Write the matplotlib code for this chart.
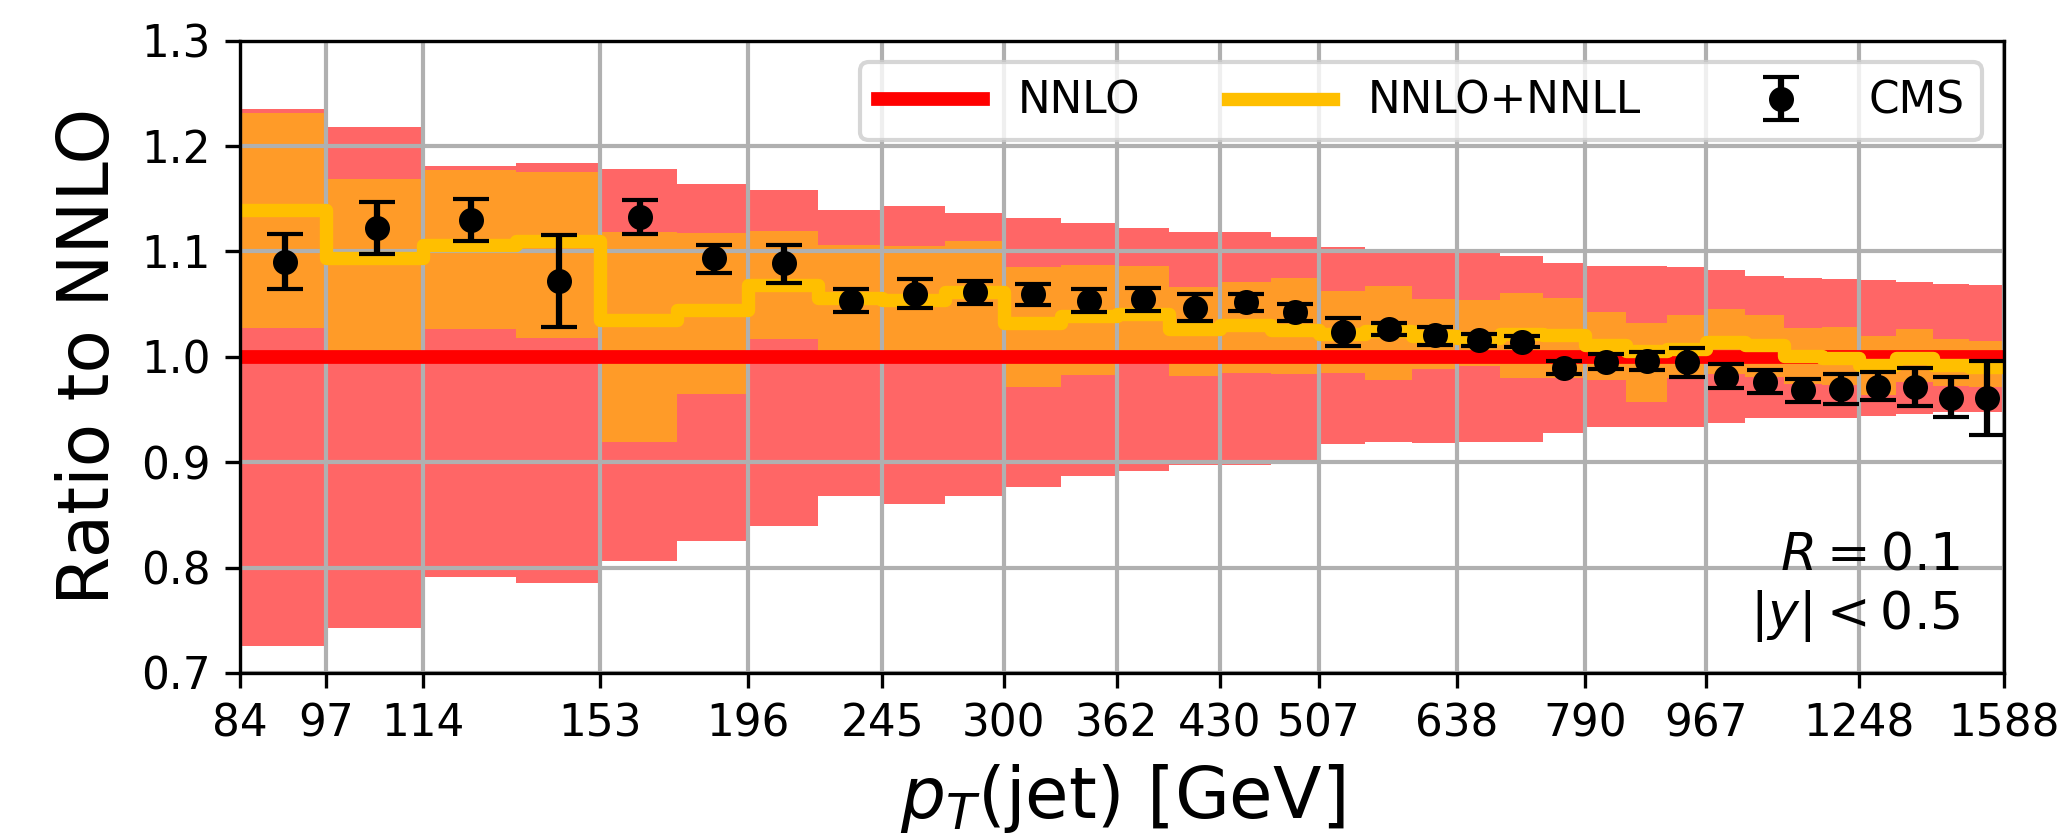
import numpy as np
import matplotlib
matplotlib.use("Agg")
import matplotlib.pyplot as plt
from matplotlib.ticker import NullLocator, FixedLocator, FixedFormatter

# ---- data ----
edges = [84, 97, 114, 133, 153, 174, 196, 220, 245, 272, 300, 330, 362, 395, 430,
         468, 507, 548, 592, 638, 686, 737, 790, 846, 905, 967, 1032, 1101, 1172,
         1248, 1327, 1410, 1497, 1588]

tick_values = [84, 97, 114, 153, 196, 245, 300, 362, 430, 507, 638, 790, 967, 1248, 1588]

nnlo_central = [1.0] * 33

nnlo_hi = [1.235, 1.218, 1.181, 1.184, 1.178, 1.164, 1.158, 1.139, 1.143, 1.136,
           1.132, 1.127, 1.122, 1.118, 1.118, 1.114, 1.104, 1.102, 1.100, 1.098,
           1.096, 1.089, 1.086, 1.086, 1.085, 1.082, 1.077, 1.075, 1.074, 1.073,
           1.071, 1.069, 1.068]
nnlo_lo = [0.726, 0.743, 0.791, 0.785, 0.806, 0.825, 0.839, 0.868, 0.860, 0.868,
           0.876, 0.887, 0.892, 0.897, 0.897, 0.900, 0.917, 0.919, 0.918, 0.919,
           0.919, 0.928, 0.933, 0.933, 0.933, 0.937, 0.942, 0.942, 0.942, 0.944,
           0.946, 0.948, 0.948]

nnll_central = [1.139, 1.094, 1.106, 1.110, 1.035, 1.044, 1.068, 1.056, 1.054, 1.061,
                1.032, 1.039, 1.041, 1.026, 1.030, 1.025, 1.022, 1.024, 1.020, 1.018,
                1.022, 1.021, 1.011, 1.005, 1.007, 1.0135, 1.011, 1.001, 0.999, 0.992,
                0.999, 0.992, 0.990]
nnll_hi = [1.231, 1.169, 1.177, 1.175, 1.118, 1.117, 1.119, 1.106, 1.105, 1.110,
           1.085, 1.087, 1.086, 1.066, 1.071, 1.075, 1.062, 1.067, 1.055, 1.054,
           1.060, 1.056, 1.042, 1.032, 1.040, 1.045, 1.040, 1.027, 1.028, 1.020,
           1.026, 1.017, 1.015]
nnll_lo = [1.027, 0.997, 1.026, 1.018, 0.919, 0.965, 1.017, 0.997, 0.995, 0.995,
           0.971, 0.983, 0.995, 0.982, 0.985, 0.984, 0.985, 0.978, 0.988, 0.991,
           0.980, 0.980, 0.978, 0.957, 0.980, 0.984, 0.981, 0.974, 0.973, 0.964,
           0.976, 0.972, 0.971]

cms_val = [1.0895, 1.1224, 1.1298, 1.0718, 1.133, 1.0934, 1.0889, 1.0531, 1.0596, 1.0612,
           1.0592, 1.0527, 1.0543, 1.0463, 1.0518, 1.0424, 1.0235, 1.026, 1.0203, 1.0161,
           1.0138, 0.9897, 0.9952, 0.9961, 0.9952, 0.981, 0.9762, 0.9682, 0.9698, 0.9714,
           0.9714, 0.9611, 0.9605]
cms_up = [1.116, 1.1465, 1.150, 1.1156, 1.149, 1.1063, 1.1056, 1.0644, 1.0734, 1.0718,
          1.0688, 1.064, 1.0656, 1.0598, 1.0598, 1.0502, 1.037, 1.0318, 1.0283, 1.0219,
          1.0196, 0.9961, 1.0026, 1.0042, 1.0081, 0.9929, 0.9871, 0.9788, 0.9836, 0.9852,
          0.9894, 0.981, 0.996]
cms_dn = [1.064, 1.0976, 1.1095, 1.0283, 1.1163, 1.0799, 1.0702, 1.0428, 1.046, 1.05,
          1.0495, 1.0424, 1.0437, 1.0341, 1.0431, 1.0341, 1.01, 1.0203, 1.0113, 1.0106,
          1.009, 0.9833, 0.9881, 0.9875, 0.981, 0.9704, 0.9656, 0.957, 0.9556, 0.9585,
          0.9537, 0.9424, 0.9257]

# ---- plot ----
e = np.array(edges, dtype=float)
centers = 0.5 * (e[:-1] + e[1:])

def ext(a):
    a = list(a)
    return np.array(a + [a[-1]])

fig = plt.figure(figsize=(6.9, 2.79), dpi=300)
ax = fig.add_axes([0.1159, 0.196, 0.8522, 0.7556])

ax.fill_between(e, ext(nnlo_lo), ext(nnlo_hi), step='post', color='red',
                alpha=0.6, linewidth=0)
ax.fill_between(e, ext(nnll_lo), ext(nnll_hi), step='post', color='#FFBF00',
                alpha=0.6, linewidth=0)
ax.step(e, ext(nnlo_central), where='post', color='red', lw=3.3, label='NNLO')
ax.step(e, ext(nnll_central), where='post', color='#FFBF00', lw=3.2, label='NNLO+NNLL')

yerr = np.array([np.array(cms_val) - np.array(cms_dn),
                 np.array(cms_up) - np.array(cms_val)])
ax.errorbar(centers, cms_val, yerr=yerr, fmt='o', color='black', ms=5,
            capsize=4.4, elinewidth=1.5, capthick=1.0, label='CMS', zorder=5)

ax.set_xscale('log')
ax.set_xlim(edges[0], edges[-1])
ax.set_ylim(0.7, 1.3)
ax.xaxis.set_major_locator(FixedLocator(tick_values))
ax.xaxis.set_major_formatter(FixedFormatter([str(v) for v in tick_values]))
ax.xaxis.set_minor_locator(NullLocator())
ax.set_yticks([0.7, 0.8, 0.9, 1.0, 1.1, 1.2, 1.3])
ax.tick_params(axis='both', labelsize=10.5)
ax.grid(True, color='#b0b0b0', lw=1.0)

ax.set_xlabel('$p_T$(jet) [GeV]', fontsize=17)
ax.set_ylabel('Ratio to NNLO', fontsize=17)

ax.legend(loc='upper right', ncol=3, fontsize=10.5, handlelength=2.4)

ax.text(0.975, 0.045, '$R = 0.1$\n$|y| < 0.5$', transform=ax.transAxes,
        ha='right', va='bottom', fontsize=12.5)

fig.savefig('out.png', dpi=300)
